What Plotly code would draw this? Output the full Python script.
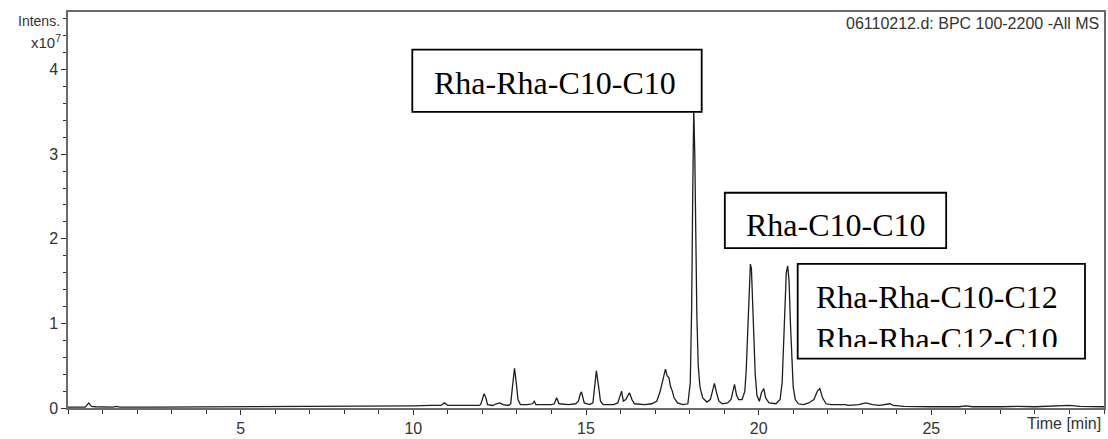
import plotly.graph_objects as go

# Base peak chromatogram (BPC 100-2200, all MS), intensity in units of 1e7
time_min = [
    0.0, 0.5, 0.6, 0.68, 0.8, 1.0, 1.3, 1.4, 1.5, 2.5, 3.5, 4.5, 5.5, 6.5, 7.5,
    8.0, 8.5, 9.0, 9.5, 10.0, 10.5, 10.8, 10.9, 11.0, 11.5, 11.9,
    11.95, 12.0, 12.05, 12.1, 12.15, 12.3, 12.4, 12.5, 12.6, 12.75,
    12.82, 12.87, 12.93, 12.98, 13.03, 13.1, 13.3, 13.45, 13.5, 13.55, 13.8, 14.0,
    14.08, 14.15, 14.22, 14.5, 14.7,
    14.78, 14.84, 14.87, 14.9, 14.95, 15.1,
    15.2, 15.25, 15.3, 15.35, 15.42, 15.5, 15.8, 15.92,
    15.97, 16.03, 16.08, 16.15, 16.26, 16.33, 16.4, 16.7, 16.9, 17.05,
    17.15, 17.25, 17.3, 17.35, 17.4, 17.45, 17.5, 17.55, 17.65, 17.8, 17.95,
    18.02, 18.06, 18.09, 18.12, 18.15, 18.18, 18.21, 18.25, 18.3, 18.38, 18.5, 18.6,
    18.66, 18.72, 18.78, 18.85, 18.95, 19.1, 19.2, 19.3, 19.36, 19.42, 19.52, 19.6,
    19.64, 19.68, 19.72, 19.76, 19.79, 19.82, 19.86, 19.9, 19.95, 20.02, 20.08,
    20.15, 20.2, 20.3, 20.5, 20.62,
    20.68, 20.72, 20.76, 20.8, 20.84, 20.88, 20.92, 20.96, 21.0, 21.06, 21.15,
    21.3, 21.45, 21.6, 21.7, 21.77, 21.85, 21.95, 22.1, 22.3, 22.5, 22.6, 22.9,
    23.1, 23.3, 23.5, 23.8, 23.9, 24.2, 25.0, 25.8, 26.0, 26.2, 27.0, 27.5, 28.0,
    28.8, 29.0, 29.3, 30.0,
]
intensity_e7 = [
    0.01, 0.01, 0.06, 0.02, 0.015, 0.01, 0.01, 0.02, 0.01, 0.01, 0.012, 0.01, 0.012, 0.012, 0.015,
    0.018, 0.02, 0.02, 0.025, 0.025, 0.03, 0.03, 0.06, 0.03, 0.03, 0.03,
    0.04, 0.12, 0.17, 0.12, 0.04, 0.03, 0.05, 0.06, 0.04, 0.03,
    0.05, 0.25, 0.47, 0.30, 0.10, 0.04, 0.04, 0.05, 0.08, 0.04, 0.04, 0.04,
    0.05, 0.12, 0.05, 0.04, 0.05,
    0.08, 0.17, 0.19, 0.14, 0.06, 0.04,
    0.06, 0.25, 0.44, 0.30, 0.08, 0.04, 0.04, 0.06,
    0.12, 0.20, 0.08, 0.10, 0.18, 0.10, 0.05, 0.04, 0.05, 0.08,
    0.20, 0.40, 0.46, 0.38, 0.36, 0.25, 0.20, 0.12, 0.06, 0.04, 0.05,
    0.30, 1.20, 2.50, 3.55, 3.00, 2.00, 1.10, 0.50, 0.25, 0.12, 0.07, 0.10,
    0.20, 0.29, 0.18, 0.08, 0.05, 0.06, 0.10, 0.28, 0.15, 0.10, 0.10, 0.20,
    0.45, 0.90, 1.40, 1.70, 1.65, 1.35, 0.80, 0.40, 0.15, 0.08, 0.18,
    0.23, 0.12, 0.06, 0.05, 0.10,
    0.30, 0.70, 1.20, 1.60, 1.68, 1.50, 1.00, 0.55, 0.25, 0.10, 0.05,
    0.04, 0.06, 0.10, 0.20, 0.23, 0.12, 0.05, 0.04, 0.04, 0.04, 0.03, 0.04,
    0.06, 0.04, 0.03, 0.05, 0.03, 0.02, 0.015, 0.015, 0.025, 0.015, 0.015, 0.02, 0.015,
    0.02, 0.03, 0.02, 0.015,
]

x_tick_values = [5, 10, 15, 20, 25]
x_tick_labels = ["5", "10", "15", "20", "25"]
y_tick_values = [0, 1, 2, 3, 4]
y_tick_labels = ["0", "1", "2", "3", "4"]

peak_labels = ["Rha-Rha-C10-C10", "Rha-C10-C10", "Rha-Rha-C10-C12<br>Rha-Rha-C12-C10"]

SANS = "Liberation Sans, Arial, Helvetica, sans-serif"
SERIF = "Liberation Serif, Times New Roman, serif"
AXIS_GREY = "#6a6a6a"

fig = go.Figure()
fig.add_trace(go.Scatter(
    x=time_min, y=intensity_e7, mode="lines",
    line=dict(color="#1e1e1e", width=1.3),
    hoverinfo="x+y", showlegend=False,
))

# Labelled boxes over the main peaks (white fill hides the trace beneath)
boxes = [
    dict(x0=9.97, x1=18.35, y0=3.50, y1=4.236),
    dict(x0=19.02, x1=25.43, y0=1.890, y1=2.544),
    dict(x0=21.13, x1=29.45, y0=0.583, y1=1.704),
]
for b in boxes:
    fig.add_shape(type="rect", xref="x", yref="y", layer="above",
                  fillcolor="white", line=dict(color="black", width=1.8), **b)

fig.add_annotation(x=14.10, y=3.84, xref="x", yref="y", text=peak_labels[0],
                   showarrow=False, font=dict(family=SERIF, size=32, color="black"))
fig.add_annotation(x=22.23, y=2.16, xref="x", yref="y", text=peak_labels[1],
                   showarrow=False, font=dict(family=SERIF, size=32, color="black"))
# The two-line label is cut off at the bottom by a fixed box height
fig.add_annotation(x=25.17, y=1.52, xref="x", yref="y", yanchor="top",
                   text=peak_labels[2], showarrow=False, height=68, valign="top",
                   borderpad=0, borderwidth=0,
                   font=dict(family=SERIF, size=32, color="black"))

# Axis captions and data file title
fig.add_annotation(x=0, y=1, xref="paper", yref="paper", xanchor="right", yanchor="middle",
                   xshift=-6, yshift=-9, text="Intens.", showarrow=False,
                   font=dict(family=SANS, size=14, color="#333"))
fig.add_annotation(x=0, y=1, xref="paper", yref="paper", xanchor="right", yanchor="middle",
                   xshift=-5, yshift=-29, text="x10<sup>7</sup>", showarrow=False,
                   font=dict(family=SANS, size=15, color="#333"))
fig.add_annotation(x=1, y=1, xref="paper", yref="paper", xanchor="right", yanchor="middle",
                   xshift=-3, yshift=-11, text="06110212.d: BPC 100-2200 -All MS",
                   showarrow=False, font=dict(family=SANS, size=16, color="#333"))
fig.add_annotation(x=1, y=0, xref="paper", yref="paper", xanchor="right", yanchor="middle",
                   xshift=-1, yshift=-15, text="Time [min]", showarrow=False,
                   font=dict(family=SANS, size=16, color="#333"))

fig.update_xaxes(
    range=[0, 30], showgrid=False, zeroline=False,
    showline=True, linecolor=AXIS_GREY, linewidth=1.5, mirror=True,
    tickmode="array", tickvals=x_tick_values, ticktext=x_tick_labels,
    ticks="outside", ticklen=5, tickcolor="#333", tickwidth=1,
    minor=dict(dtick=1, ticks="outside", ticklen=4, tickcolor="#333", tickwidth=1),
    tickfont=dict(family=SANS, size=16, color="#333"),
)
fig.update_yaxes(
    range=[0, 4.68], showgrid=False, zeroline=False,
    showline=True, linecolor=AXIS_GREY, linewidth=1.5, mirror=True,
    tickmode="array", tickvals=y_tick_values, ticktext=y_tick_labels,
    ticks="outside", ticklen=5, tickcolor="#333", tickwidth=1,
    minor=dict(dtick=0.2, ticks="outside", ticklen=3, tickcolor="#333", tickwidth=1),
    tickfont=dict(family=SANS, size=16, color="#333"),
)

fig.update_layout(
    width=1108, height=439,
    margin=dict(l=68, r=2, t=12, b=26),
    paper_bgcolor="white", plot_bgcolor="white",
    showlegend=False,
)

fig.write_html("out.html")
